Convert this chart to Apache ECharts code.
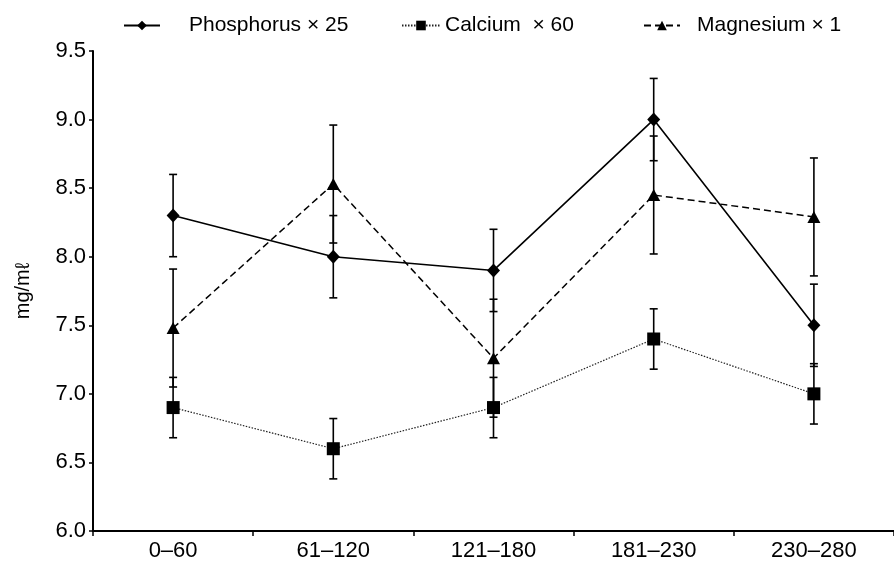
<!DOCTYPE html>
<html>
<head>
<meta charset="utf-8">
<script src="https://cdn.jsdelivr.net/npm/echarts@6/dist/echarts.min.js"></script>
<style>html,body{margin:0;padding:0;background:#fff}#c{width:894px;height:562px}</style>
</head>
<body>
<div id="c"></div>
<script>
const categories = ['0–60', '61–120', '121–180', '181–230', '230–280'];
const yTicks = [6.0, 6.5, 7.0, 7.5, 8.0, 8.5, 9.0, 9.5];
const phosphorus = [8.3, 8.0, 7.9, 9.0, 7.5];
const phosphorusErr = [0.3, 0.3, 0.3, 0.3, 0.3];
const calcium = [6.9, 6.6, 6.9, 7.4, 7.0];
const calciumErr = [0.22, 0.22, 0.22, 0.22, 0.22];
const magnesium = [7.48, 8.53, 7.26, 8.45, 8.29];
const magnesiumErr = [0.43, 0.43, 0.43, 0.43, 0.43];

const FONT = '"Liberation Sans", Arial, Helvetica, sans-serif';

function errData(vals, errs) {
  return vals.map((v, i) => [i, v - errs[i], v + errs[i]]);
}
function errSeries(vals, errs) {
  return {
    type: 'custom',
    data: errData(vals, errs),
    encode: { x: 0, y: [1, 2] },
    z: 1,
    silent: true,
    renderItem: function (params, api) {
      const x = api.value(0);
      const lo = api.coord([x, api.value(1)]);
      const hi = api.coord([x, api.value(2)]);
      const w = 4;
      const st = { stroke: '#000', lineWidth: 1.6 };
      return {
        type: 'group',
        children: [
          { type: 'line', shape: { x1: hi[0], y1: hi[1], x2: lo[0], y2: lo[1] }, style: st },
          { type: 'line', shape: { x1: hi[0] - w, y1: hi[1], x2: hi[0] + w, y2: hi[1] }, style: st },
          { type: 'line', shape: { x1: lo[0] - w, y1: lo[1], x2: lo[0] + w, y2: lo[1] }, style: st }
        ]
      };
    }
  };
}

const chart = echarts.init(document.getElementById('c'), null, { renderer: 'canvas' });
const legendText = { color: '#000', fontSize: 21, fontFamily: FONT };
chart.setOption({
  animation: false,
  backgroundColor: '#fff',
  grid: { left: 93, top: 51, width: 810, height: 483 },
  legend: [
    { data: ['Phosphorus × 25'], left: 118, top: 10, itemWidth: 36, itemHeight: 12, textStyle: Object.assign({ padding: [0, 0, 0, 24] }, legendText) },
    { data: ['Calcium  × 60'], left: 396, top: 10, itemWidth: 38, itemHeight: 12, textStyle: Object.assign({ padding: [0, 0, 0, 0] }, legendText) },
    { data: ['Magnesium × 1'], left: 638, top: 10, itemWidth: 36, itemHeight: 12, textStyle: Object.assign({ padding: [0, 0, 0, 12] }, legendText) }
  ],
  xAxis: {
    type: 'category',
    data: categories,
    boundaryGap: true,
    axisLine: { lineStyle: { color: '#000', width: 2 } },
    axisTick: { show: true, length: 5, lineStyle: { color: '#000', width: 1.5 } },
    axisLabel: { color: '#000', fontSize: 22, fontFamily: FONT, margin: 9 },
    splitLine: { show: false }
  },
  yAxis: {
    type: 'value',
    min: yTicks[0],
    max: yTicks[yTicks.length - 1],
    interval: 0.5,
    name: 'mg/mℓ',
    nameLocation: 'middle',
    nameGap: 60,
    nameRotate: 90,
    nameTextStyle: { color: '#000', fontSize: 20, fontFamily: FONT },
    axisLine: { show: true, lineStyle: { color: '#000', width: 2 } },
    axisTick: { show: true, length: 4, lineStyle: { color: '#000', width: 1.5 } },
    axisLabel: { color: '#000', fontSize: 22, fontFamily: FONT, margin: 7, formatter: v => v.toFixed(1) },
    splitLine: { show: false }
  },
  series: [
    errSeries(phosphorus, phosphorusErr),
    errSeries(calcium, calciumErr),
    errSeries(magnesium, magnesiumErr),
    {
      name: 'Phosphorus × 25', type: 'line', data: phosphorus, z: 3,
      symbol: 'diamond', symbolSize: [13, 14],
      itemStyle: { color: '#000' },
      lineStyle: { color: '#000', width: 1.6, type: 'solid' }
    },
    {
      name: 'Calcium  × 60', type: 'line', data: calcium, z: 3,
      symbol: 'rect', symbolSize: 13,
      itemStyle: { color: '#000' },
      lineStyle: { color: '#222', width: 1.2, type: [1.5, 1.5] }
    },
    {
      name: 'Magnesium × 1', type: 'line', data: magnesium, z: 3,
      symbol: 'triangle', symbolSize: [13, 12],
      itemStyle: { color: '#000' },
      lineStyle: { color: '#000', width: 1.5, type: [7, 4] }
    }
  ]
});
</script>
</body>
</html>
